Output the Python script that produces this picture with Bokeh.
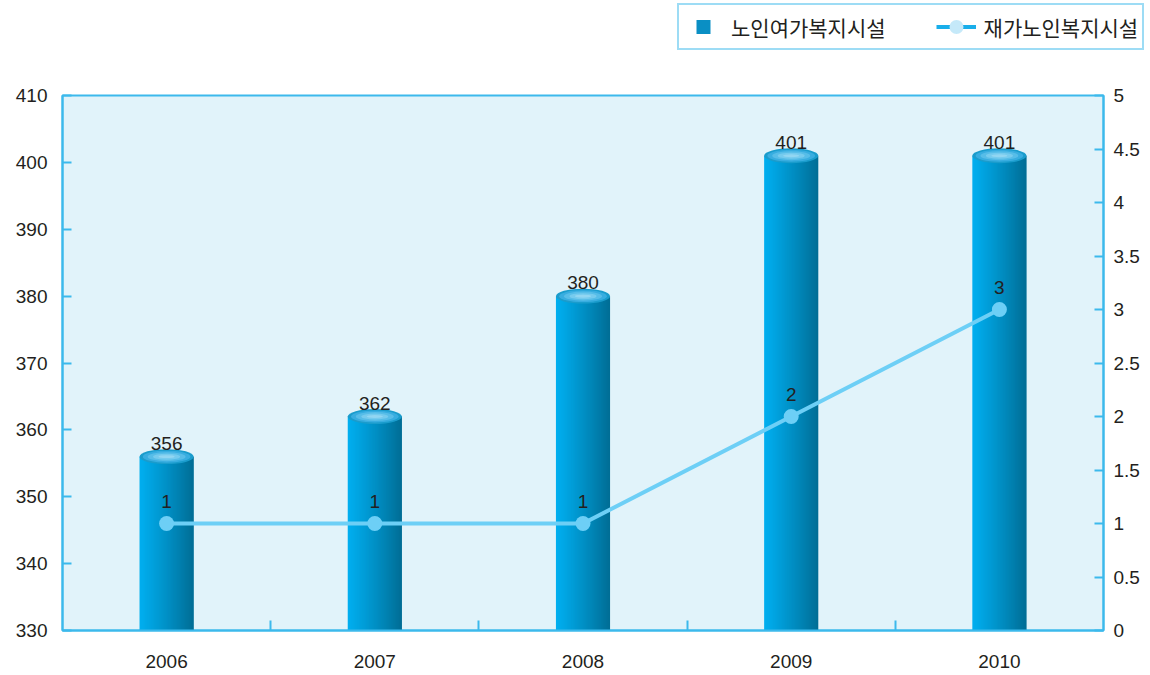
from bokeh.plotting import figure
from bokeh.layouts import column
from bokeh.models import (Range1d, LinearAxis, FixedTicker, Legend, LegendItem,
                          CustomJSTickFormatter)
from bokeh.embed import file_html
from bokeh.resources import INLINE
from bokeh.core.properties import value

# ---- data ----
years = ["2006", "2007", "2008", "2009", "2010"]
leisure_facilities = [356, 362, 380, 401, 401]      # 노인여가복지시설 (left axis)
homecare_facilities = [1, 1, 1, 2, 3]               # 재가노인복지시설 (right axis)
left_ticks = [330, 340, 350, 360, 370, 380, 390, 400, 410]
right_ticks = [0, 0.5, 1, 1.5, 2, 2.5, 3, 3.5, 4, 4.5, 5]
series_names = ["노인여가복지시설", "재가노인복지시설"]

idx = list(range(len(years)))
AXIS_C = "#3cb9ec"
TEXT_C = "#231f20"
NUM_FONT = "Liberation Sans"
KR_FONT = "Noto Sans CJK KR"
NUM_SIZE = "19px"
NAN = float("nan")

LEG_H = 62

p = figure(width=1146, height=672 - LEG_H,
           x_range=Range1d(-0.5, len(years) - 0.5),
           y_range=Range1d(left_ticks[0], left_ticks[-1]),
           output_backend="svg", toolbar_location=None,
           min_border_left=62, min_border_right=43,
           min_border_top=95 - LEG_H, min_border_bottom=42,
           background_fill_color="#e1f3fa", border_fill_color="white",
           outline_line_color=AXIS_C, outline_line_width=2)
p.frame_align = False
p.grid.visible = False
p.extra_y_ranges = {"right": Range1d(right_ticks[0], right_ticks[-1])}

# x axis
xa = p.xaxis[0]
xa.ticker = FixedTicker(ticks=idx, minor_ticks=[i + 0.5 for i in idx[:-1]])
xa.major_label_overrides = {i: y for i, y in zip(idx, years)}
xa.major_tick_line_color = None
xa.minor_tick_in = 10
xa.minor_tick_out = 0
xa.minor_tick_line_color = AXIS_C
xa.minor_tick_line_width = 2
xa.axis_line_color = AXIS_C
xa.axis_line_width = 2
xa.major_label_standoff = 18
xa.major_label_text_font = NUM_FONT
xa.major_label_text_font_size = NUM_SIZE
xa.major_label_text_color = TEXT_C

# left axis
ya = p.yaxis[0]
ya.ticker = FixedTicker(ticks=left_ticks)
ya.major_tick_in = 9
ya.major_tick_out = 0
ya.major_tick_line_color = AXIS_C
ya.major_tick_line_width = 2
ya.minor_tick_line_color = None
ya.axis_line_color = AXIS_C
ya.axis_line_width = 2
ya.major_label_standoff = 15
ya.major_label_text_font = NUM_FONT
ya.major_label_text_font_size = NUM_SIZE
ya.major_label_text_color = TEXT_C

# right axis
ra = LinearAxis(y_range_name="right", ticker=FixedTicker(ticks=right_ticks),
                formatter=CustomJSTickFormatter(code="return tick.toString();"))
ra.major_tick_in = 9
ra.major_tick_out = 0
ra.major_tick_line_color = AXIS_C
ra.major_tick_line_width = 2
ra.minor_tick_line_color = None
ra.axis_line_color = AXIS_C
ra.axis_line_width = 2
ra.major_label_standoff = 10
ra.major_label_text_font = NUM_FONT
ra.major_label_text_font_size = NUM_SIZE
ra.major_label_text_color = TEXT_C
p.add_layout(ra, "right")

# ---- cylinder bars (horizontal gradient made of overlapping strips) ----
bar_w = 0.26
n_strips = 48
c_left = (0, 174, 239)
c_right = (0, 110, 150)

def lerp(c0, c1, t):
    return "#%02x%02x%02x" % tuple(int(round(a + (b - a) * t)) for a, b in zip(c0, c1))

base = left_ticks[0]
step = bar_w / n_strips
for k in range(n_strips):
    t = k / (n_strips - 1)
    c = lerp(c_left, c_right, t ** 1.1)
    p.quad(left=[i - bar_w / 2 + k * step for i in idx],
           right=[i - bar_w / 2 + min((k + 1.8) * step, bar_w) for i in idx],
           top=leisure_facilities, bottom=base,
           fill_color=c, line_color=None)

# cylinder top ellipses
ell_layers = [(1.00, 15, "#1a9ccc"), (0.88, 12, "#38ade0"),
              (0.70, 9, "#57bde8"), (0.50, 6, "#76cbee"), (0.30, 3, "#92d6f2")]
for fw, h, c in ell_layers:
    p.ellipse(x=idx, y=leisure_facilities, width=bar_w * fw, height=h,
              height_units="screen", fill_color=c, line_color=None)

# bar value labels
p.text(x=idx, y=leisure_facilities, text=[str(v) for v in leisure_facilities],
       text_align="center", text_baseline="bottom", y_offset=-7,
       text_font=value(NUM_FONT), text_font_size=NUM_SIZE, text_color=TEXT_C)

# ---- line series (right axis) ----
LINE_C = "#6dcff6"
p.line(x=idx, y=homecare_facilities, y_range_name="right",
       line_color=LINE_C, line_width=4)
p.scatter(x=idx, y=homecare_facilities, y_range_name="right", size=15,
          fill_color=LINE_C, line_color=None)
p.text(x=idx, y=homecare_facilities, text=[str(v) for v in homecare_facilities],
       y_range_name="right", text_align="center", text_baseline="bottom",
       y_offset=-16, text_font=value(NUM_FONT), text_font_size=NUM_SIZE,
       text_color=TEXT_C)

# ---- legend strip (separate small figure above the chart) ----
lg = figure(width=1146, height=LEG_H, x_range=Range1d(0, 1), y_range=Range1d(0, 1),
            output_backend="svg", toolbar_location=None,
            min_border=0, outline_line_color=None, border_fill_color="white",
            background_fill_color="white")
lg.frame_align = False
lg.axis.visible = False
lg.grid.visible = False
leg_sq = lg.scatter(x=[NAN], y=[NAN], marker="square", fill_color="#0a8fc4", line_color=None)
leg_ln = lg.line(x=[NAN, NAN], y=[NAN, NAN], line_color="#19aeea", line_width=4)
leg_ci = lg.scatter(x=[NAN], y=[NAN], fill_color="#c5e9f9", line_color=None)

legend = Legend(items=[LegendItem(label=series_names[0], renderers=[leg_sq]),
                       LegendItem(label=series_names[1], renderers=[leg_ln, leg_ci])],
                location=(677, 12), orientation="horizontal",
                glyph_width=40, glyph_height=35, label_standoff=8, spacing=50,
                padding=4, margin=0,
                border_line_color=AXIS_C, border_line_width=2,
                background_fill_color="white", background_fill_alpha=1,
                label_text_font=KR_FONT, label_text_font_size="21px",
                label_text_color=TEXT_C)
lg.add_layout(legend)

layout = column(lg, p, spacing=0)
open("out.html", "w").write(file_html(layout, INLINE))
